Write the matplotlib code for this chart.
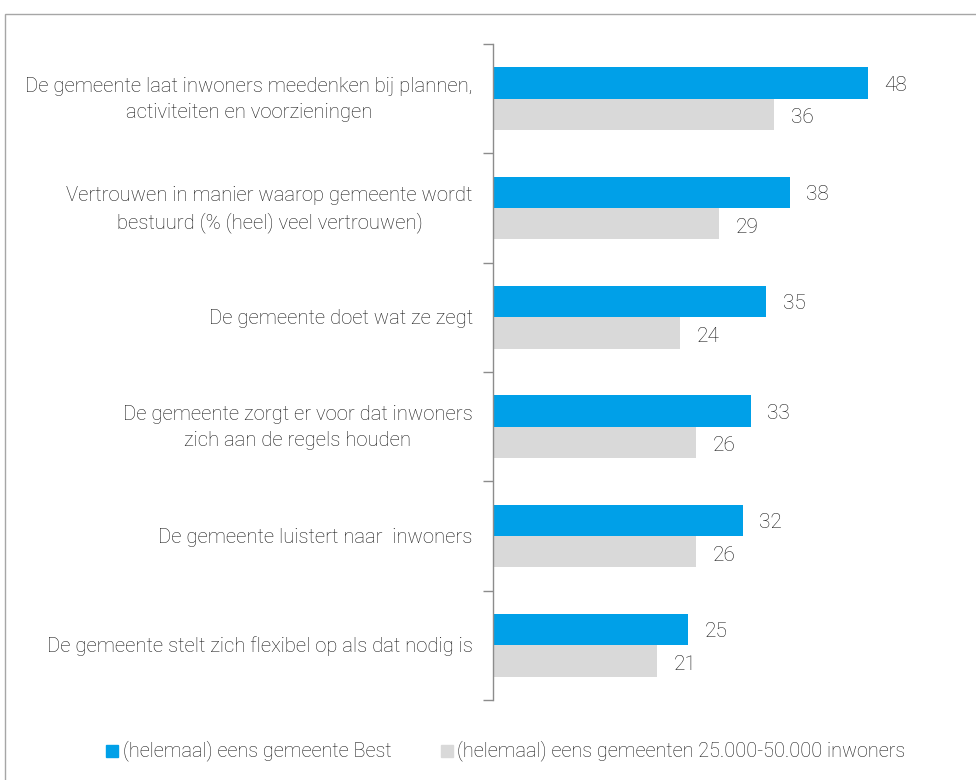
import matplotlib.pyplot as plt
import matplotlib.patches as mpatches
import numpy as np

categories = [
    "De gemeente laat inwoners meedenken bij plannen,\nactiviteiten en voorzieningen",
    "Vertrouwen in manier waarop gemeente wordt\nbestuurd (% (heel) veel vertrouwen)",
    "De gemeente doet wat ze zegt",
    "De gemeente zorgt er voor dat inwoners\nzich aan de regels houden",
    "De gemeente luistert naar  inwoners",
    "De gemeente stelt zich flexibel op als dat nodig is",
]
best = [48, 38, 35, 33, 32, 25]
peers = [36, 29, 24, 26, 26, 21]
series_names = ["(helemaal) eens gemeente Best",
                "(helemaal) eens gemeenten 25.000-50.000 inwoners"]

blue = "#00A0E8"
grey = "#D9D9D9"
txt = "#1a1a1a"
font = "Roboto"
fw = "light"

fig = plt.figure(figsize=(9.76, 7.8), dpi=100)

# outer frame
fig.add_artist(mpatches.Rectangle((5 / 976, -0.01), 1.0, 1 - 14 / 780 + 0.01,
                                  transform=fig.transFigure, fill=False,
                                  edgecolor="#a6a6a6", linewidth=1.0))

ax = fig.add_axes([493 / 976, 1 - 700 / 780, 483 / 976, 656 / 780])

y = np.arange(len(categories))
h = 0.288
ax.barh(y - h / 2, best, height=h, color=blue)
ax.barh(y + h / 2, peers, height=h, color=grey)

ax.set_xlim(0, 483 / 7.81)
ax.set_ylim(len(categories) - 0.5, -0.5)

for i in range(len(categories)):
    ax.text(best[i] + 2.1, y[i] - h / 2 + 0.02, str(best[i]), va="center", ha="left",
            fontsize=15, color=txt, family=font, fontweight=fw)
    ax.text(peers[i] + 2.1, y[i] + h / 2 + 0.03, str(peers[i]), va="center", ha="left",
            fontsize=15, color=txt, family=font, fontweight=fw)
    ax.text(-2.6, y[i] + 0.01, categories[i], va="center", ha="right", multialignment="center",
            fontsize=14.6, color=txt, family=font, fontweight=fw, linespacing=1.45)

for s in ["top", "right", "bottom"]:
    ax.spines[s].set_visible(False)
ax.spines["left"].set_color("#8c8c8c")
ax.spines["left"].set_linewidth(1.0)
ax.set_xticks([])
ax.set_yticks(np.arange(-0.5, len(categories) + 0.5, 1.0))
ax.set_yticklabels([])
ax.tick_params(axis="y", length=7, color="#8c8c8c", width=1.0)

# legend
fig.add_artist(mpatches.Rectangle((106 / 976, 1 - 757 / 780), 12 / 976, 12 / 780,
                                  transform=fig.transFigure, color=blue))
fig.text(123 / 976, 1 - 751 / 780, series_names[0], va="center", ha="left",
         fontsize=14.3, color=txt, family=font, fontweight=fw)
fig.add_artist(mpatches.Rectangle((441 / 976, 1 - 757 / 780), 12 / 976, 12 / 780,
                                  transform=fig.transFigure, color=grey))
fig.text(457 / 976, 1 - 751 / 780, series_names[1], va="center", ha="left",
         fontsize=14.3, color=txt, family=font, fontweight=fw)

fig.savefig("out.png", dpi=100)
